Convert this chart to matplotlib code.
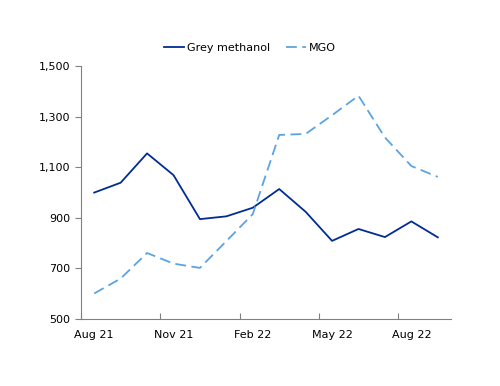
import matplotlib.pyplot as plt
import numpy as np

months = ["Aug 21", "Sep 21", "Oct 21", "Nov 21", "Dec 21", "Jan 22", "Feb 22",
          "Mar 22", "Apr 22", "May 22", "Jun 22", "Jul 22", "Aug 22", "Sep 22"]
grey_methanol = [1000, 1039, 1155, 1069, 895, 906, 940, 1014, 924, 809, 856, 824, 886, 823]
mgo = [601, 660, 761, 719, 702, 808, 915, 1228, 1232, 1306, 1383, 1218, 1105, 1062]
y_ticks = [500, 700, 900, 1100, 1300, 1500]

plt.rcParams["font.family"] = "DejaVu Sans"
plt.rcParams["font.size"] = 8

fig = plt.figure(figsize=(5, 3.86), dpi=100)
ax = fig.add_axes([0.162, 0.1736, 0.740, 0.655])

x = np.arange(len(months))
ax.plot(x, grey_methanol, color="#002C94", lw=1.3, label="Grey methanol")
ax.plot(x, mgo, color="#5BA4E0", lw=1.3, dashes=(6, 3), label="MGO")

ax.set_xlim(-0.5, len(months) - 0.5)
ax.set_ylim(500, 1500)
ax.set_yticks(y_ticks, [f"{v:,}" for v in y_ticks])

# tick marks sit between categories, labels sit on them
ax.set_xticks(np.arange(-0.5, len(months) - 1, 3), [""] * 5)
ax.set_xticks(x[::3], [months[i] for i in x[::3]], minor=True)
ax.tick_params(axis="x", which="major", direction="in", length=4, color="#808080")
ax.tick_params(axis="x", which="minor", length=0, pad=8)
ax.tick_params(axis="y", direction="out", length=4, color="#808080", pad=4)

for side in ("top", "right"):
    ax.spines[side].set_visible(False)
for side in ("left", "bottom"):
    ax.spines[side].set_color("#808080")
    ax.spines[side].set_linewidth(0.8)

fig.legend(loc="upper center", bbox_to_anchor=(0.5, 0.915), ncols=2, frameon=False,
           handlelength=1.8, handletextpad=0.2, columnspacing=1.5, fontsize=8)

fig.savefig("out.png", dpi=100)
